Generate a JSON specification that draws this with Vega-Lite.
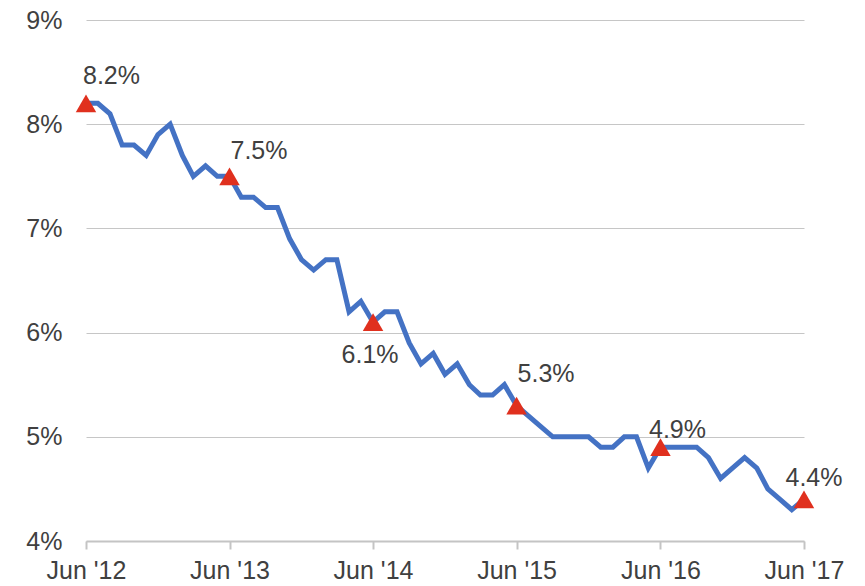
{
  "$schema": "https://vega.github.io/schema/vega-lite/v6.json",
  "autosize": {"type": "none"},
  "padding": {"left": 86, "top": 20, "right": 62, "bottom": 45},
  "width": 718,
  "height": 521,
  "background": "white",
  "config": {
    "view": {"stroke": null},
    "font": "Liberation Sans",
    "text": {"fontSize": 25, "color": "#404040", "font": "Liberation Sans", "baseline": "alphabetic"}
  },
  "data": {
    "values": [
      {"date": "2012-06-01", "rate": 8.2}, {"date": "2012-07-01", "rate": 8.2}, {"date": "2012-08-01", "rate": 8.1},
      {"date": "2012-09-01", "rate": 7.8}, {"date": "2012-10-01", "rate": 7.8}, {"date": "2012-11-01", "rate": 7.7},
      {"date": "2012-12-01", "rate": 7.9}, {"date": "2013-01-01", "rate": 8.0}, {"date": "2013-02-01", "rate": 7.7},
      {"date": "2013-03-01", "rate": 7.5}, {"date": "2013-04-01", "rate": 7.6}, {"date": "2013-05-01", "rate": 7.5},
      {"date": "2013-06-01", "rate": 7.5}, {"date": "2013-07-01", "rate": 7.3}, {"date": "2013-08-01", "rate": 7.3},
      {"date": "2013-09-01", "rate": 7.2}, {"date": "2013-10-01", "rate": 7.2}, {"date": "2013-11-01", "rate": 6.9},
      {"date": "2013-12-01", "rate": 6.7}, {"date": "2014-01-01", "rate": 6.6}, {"date": "2014-02-01", "rate": 6.7},
      {"date": "2014-03-01", "rate": 6.7}, {"date": "2014-04-01", "rate": 6.2}, {"date": "2014-05-01", "rate": 6.3},
      {"date": "2014-06-01", "rate": 6.1}, {"date": "2014-07-01", "rate": 6.2}, {"date": "2014-08-01", "rate": 6.2},
      {"date": "2014-09-01", "rate": 5.9}, {"date": "2014-10-01", "rate": 5.7}, {"date": "2014-11-01", "rate": 5.8},
      {"date": "2014-12-01", "rate": 5.6}, {"date": "2015-01-01", "rate": 5.7}, {"date": "2015-02-01", "rate": 5.5},
      {"date": "2015-03-01", "rate": 5.4}, {"date": "2015-04-01", "rate": 5.4}, {"date": "2015-05-01", "rate": 5.5},
      {"date": "2015-06-01", "rate": 5.3}, {"date": "2015-07-01", "rate": 5.2}, {"date": "2015-08-01", "rate": 5.1},
      {"date": "2015-09-01", "rate": 5.0}, {"date": "2015-10-01", "rate": 5.0}, {"date": "2015-11-01", "rate": 5.0},
      {"date": "2015-12-01", "rate": 5.0}, {"date": "2016-01-01", "rate": 4.9}, {"date": "2016-02-01", "rate": 4.9},
      {"date": "2016-03-01", "rate": 5.0}, {"date": "2016-04-01", "rate": 5.0}, {"date": "2016-05-01", "rate": 4.7},
      {"date": "2016-06-01", "rate": 4.9}, {"date": "2016-07-01", "rate": 4.9}, {"date": "2016-08-01", "rate": 4.9},
      {"date": "2016-09-01", "rate": 4.9}, {"date": "2016-10-01", "rate": 4.8}, {"date": "2016-11-01", "rate": 4.6},
      {"date": "2016-12-01", "rate": 4.7}, {"date": "2017-01-01", "rate": 4.8}, {"date": "2017-02-01", "rate": 4.7},
      {"date": "2017-03-01", "rate": 4.5}, {"date": "2017-04-01", "rate": 4.4}, {"date": "2017-05-01", "rate": 4.3},
      {"date": "2017-06-01", "rate": 4.4}
    ]
  },
  "encoding": {
    "x": {
      "field": "date", "type": "temporal",
      "scale": {"type": "utc", "domain": [{"year": 2012, "month": 6, "date": 1, "utc": true}, {"year": 2017, "month": 6, "date": 1, "utc": true}]},
      "axis": {
        "title": null, "grid": false,
        "labelExpr": "utcFormat(datum.value, \"%b '%y\")",
        "values": [
          {"year": 2012, "month": 6, "date": 1, "utc": true},
          {"year": 2013, "month": 6, "date": 1, "utc": true},
          {"year": 2014, "month": 6, "date": 1, "utc": true},
          {"year": 2015, "month": 6, "date": 1, "utc": true},
          {"year": 2016, "month": 6, "date": 1, "utc": true},
          {"year": 2017, "month": 6, "date": 1, "utc": true}
        ],
        "labelFont": "Liberation Sans", "labelFontSize": 25, "labelColor": "#404040",
        "domainColor": "#c4c4c4", "domainWidth": 2, "tickColor": "#c4c4c4", "tickWidth": 2, "tickSize": 8,
        "labelPadding": 9, "labelFlush": false
      }
    },
    "y": {
      "field": "rate", "type": "quantitative",
      "scale": {"domain": [4, 9], "nice": false, "zero": false},
      "axis": {
        "title": null, "values": [4, 5, 6, 7, 8, 9], "labelExpr": "datum.value + '%'",
        "labelFont": "Liberation Sans", "labelFontSize": 25, "labelColor": "#404040",
        "domain": false, "ticks": false, "labelPadding": 24,
        "gridColor": "#c6c6c6", "gridWidth": 1
      }
    }
  },
  "layer": [
    {"mark": {"type": "line", "color": "#4472C4", "strokeWidth": 5, "strokeJoin": "miter"}},
    {
      "transform": [{"filter": "utcmonth(datum.date) == 5"}],
      "mark": {"type": "point", "shape": "triangle-up", "filled": true, "color": "#E0301E", "opacity": 1, "size": 420}
    },
    {
      "transform": [{"filter": "utcmonth(datum.date) == 5 && utcyear(datum.date) == 2012"}, {"calculate": "format(datum.rate, '.1f') + '%'", "as": "label"}],
      "mark": {"type": "text", "align": "left", "dx": -3, "dy": -19},
      "encoding": {"text": {"field": "label"}}
    },
    {
      "transform": [{"filter": "utcmonth(datum.date) == 5 && utcyear(datum.date) == 2013"}, {"calculate": "format(datum.rate, '.1f') + '%'", "as": "label"}],
      "mark": {"type": "text", "align": "left", "dx": 1, "dy": -17},
      "encoding": {"text": {"field": "label"}}
    },
    {
      "transform": [{"filter": "utcmonth(datum.date) == 5 && utcyear(datum.date) == 2014"}, {"calculate": "format(datum.rate, '.1f') + '%'", "as": "label"}],
      "mark": {"type": "text", "align": "center", "dx": -3, "dy": 41},
      "encoding": {"text": {"field": "label"}}
    },
    {
      "transform": [{"filter": "utcmonth(datum.date) == 5 && utcyear(datum.date) == 2015"}, {"calculate": "format(datum.rate, '.1f') + '%'", "as": "label"}],
      "mark": {"type": "text", "align": "left", "dx": 1, "dy": -24},
      "encoding": {"text": {"field": "label"}}
    },
    {
      "transform": [{"filter": "utcmonth(datum.date) == 5 && utcyear(datum.date) == 2016"}, {"calculate": "format(datum.rate, '.1f') + '%'", "as": "label"}],
      "mark": {"type": "text", "align": "center", "dx": 17, "dy": -9},
      "encoding": {"text": {"field": "label"}}
    },
    {
      "transform": [{"filter": "utcmonth(datum.date) == 5 && utcyear(datum.date) == 2017"}, {"calculate": "format(datum.rate, '.1f') + '%'", "as": "label"}],
      "mark": {"type": "text", "align": "center", "dx": 10, "dy": -13},
      "encoding": {"text": {"field": "label"}}
    }
  ]
}
